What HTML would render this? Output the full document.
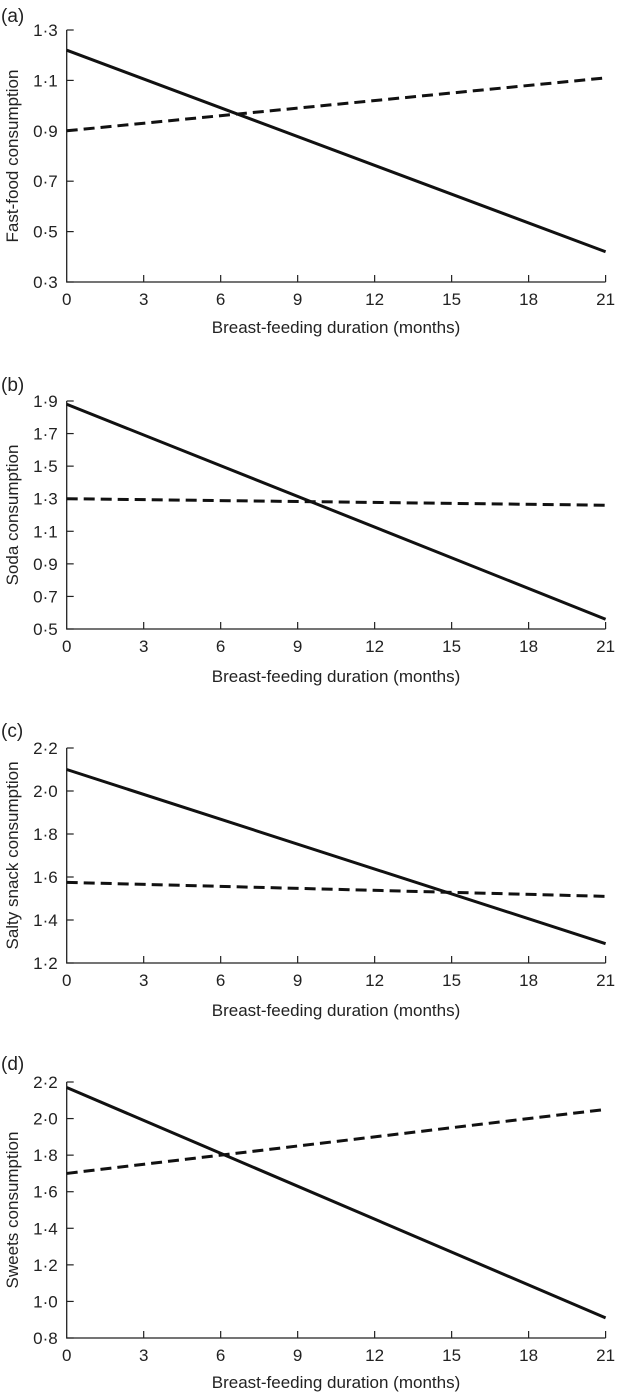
<!DOCTYPE html>
<html><head><meta charset="utf-8">
<style>
html,body{margin:0;padding:0;background:#fff;}
svg{display:block;font-family:"Liberation Sans",Arial,sans-serif;}
text{fill:#222;}
</style></head>
<body>
<svg id="chart" width="617" height="1394" viewBox="0 0 617 1394"></svg>
<script>
const xTicks = [0,3,6,9,12,15,18,21];
const panelLabels = ['(a)','(b)','(c)','(d)'];
const yTitles = ['Fast-food consumption','Soda consumption','Salty snack consumption','Sweets consumption'];
const yTickLabelsA = ['0·3','0·5','0·7','0·9','1·1','1·3'];
const yTickValsA = [0.3,0.5,0.7,0.9,1.1,1.3];
const yTickLabelsB = ['0·5','0·7','0·9','1·1','1·3','1·5','1·7','1·9'];
const yTickValsB = [0.5,0.7,0.9,1.1,1.3,1.5,1.7,1.9];
const yTickLabelsC = ['1·2','1·4','1·6','1·8','2·0','2·2'];
const yTickValsC = [1.2,1.4,1.6,1.8,2.0,2.2];
const yTickLabelsD = ['0·8','1·0','1·2','1·4','1·6','1·8','2·0','2·2'];
const yTickValsD = [0.8,1.0,1.2,1.4,1.6,1.8,2.0,2.2];
const lineX = [0,21];
const solidA = [1.22,0.42], dashedA = [0.90,1.11];
const solidB = [1.88,0.56], dashedB = [1.30,1.26];
const solidC = [2.10,1.29], dashedC = [1.575,1.51];
const solidD = [2.17,0.91], dashedD = [1.70,2.05];

const layout = [
 {top:30, bottom:282, lab:15, ttl:327},
 {top:401, bottom:629, lab:384, ttl:676},
 {top:748, bottom:963, lab:730, ttl:1010},
 {top:1082, bottom:1338, lab:1063, ttl:1382}
];
const panels = [
 {labels:yTickLabelsA, vals:yTickValsA, solid:solidA, dashed:dashedA},
 {labels:yTickLabelsB, vals:yTickValsB, solid:solidB, dashed:dashedB},
 {labels:yTickLabelsC, vals:yTickValsC, solid:solidC, dashed:dashedC},
 {labels:yTickLabelsD, vals:yTickValsD, solid:solidD, dashed:dashedD}
];
const NS='http://www.w3.org/2000/svg';
const svg=document.getElementById('chart');
function mk(tag,attrs,parent){const e=document.createElementNS(NS,tag);for(const k in attrs)e.setAttribute(k,attrs[k]);(parent||svg).appendChild(e);return e;}
const X0=66.7, X1=605.6;
const xs=v=>X0+(v-0)/(21-0)*(X1-X0);
panels.forEach((p,i)=>{
 const L=layout[i];
 const ymin=p.vals[0], ymax=p.vals[p.vals.length-1];
 const ys=v=>L.bottom-(v-ymin)/(ymax-ymin)*(L.bottom-L.top);
 const g=mk('g',{});
 
 
 const pl=mk('text',{x:1,y:L.lab+7,'font-size':19},g);pl.textContent=panelLabels[i];
 
 
 const ax=mk('path',{d:`M${X0} ${L.top}V${L.bottom}H${X1}`,stroke:'#222','stroke-width':1.3,fill:'none'},g);
 
 
 p.vals.forEach((v,j)=>{
  const y=ys(v);
  mk('line',{x1:X0,x2:X0+7,y1:y,y2:y,stroke:'#222','stroke-width':1.2},g);
  const t=mk('text',{x:X0-9,y:y+6,'font-size':17,'text-anchor':'end'},g);t.textContent=p.labels[j];
  
  
 });
 xTicks.forEach(v=>{
  const x=xs(v);
  if(v>0) mk('line',{x1:x,x2:x,y1:L.bottom,y2:L.bottom-7,stroke:'#222','stroke-width':1.2},g);
  const t=mk('text',{x:x,y:L.bottom+23,'font-size':17,'text-anchor':'middle'},g);t.textContent=v;
  
  
 });
 const xt=mk('text',{x:336,y:L.ttl+6,'font-size':17,'text-anchor':'middle'},g);xt.textContent='Breast-feeding duration (months)';
 
 
 const cy=(L.top+L.bottom)/2;
 const yt=mk('text',{x:0,y:0,'font-size':17,'text-anchor':'middle',transform:`translate(18 ${cy}) rotate(-90)`},g);yt.textContent=yTitles[i];
 
 
 const s=mk('line',{x1:xs(lineX[0]),y1:ys(p.solid[0]),x2:xs(lineX[1]),y2:ys(p.solid[1]),stroke:'#111','stroke-width':3},g);
 
 
 const d=mk('line',{x1:xs(lineX[0]),y1:ys(p.dashed[0]),x2:xs(lineX[1]),y2:ys(p.dashed[1]),stroke:'#111','stroke-width':3,'stroke-dasharray':'11 6'},g);
 
 
});
</script>
</body></html>
